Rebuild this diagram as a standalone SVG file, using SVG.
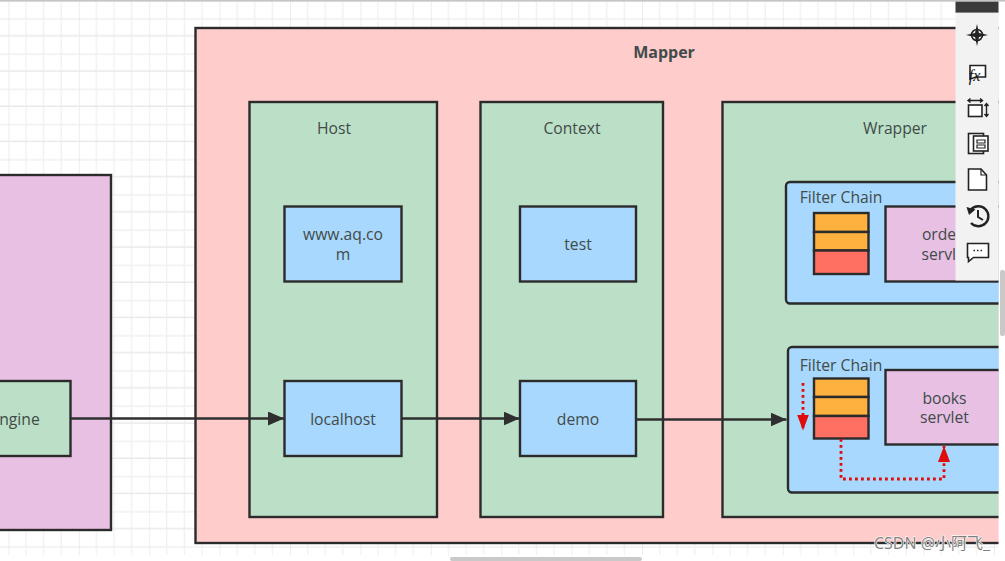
<svg xmlns="http://www.w3.org/2000/svg" width="1005" height="561" viewBox="0 0 1005 561">
<style>
  text { font-family: "Open Sans", "Noto Sans", "Liberation Sans", sans-serif; font-size: 15.7px; fill: #414b49; text-anchor: middle; }
  .box { stroke: #2b2b2b; stroke-width: 2.4; }
  .pink { fill: #ffcccc; }
  .green { fill: #bbdfc7; }
  .blue { fill: #a8d8fd; }
  .lilac { fill: #e8c0e4; }
  .amber { fill: #ffb13f; }
  .coral { fill: #ff7063; }
  .flow { fill: none; stroke: #2f2f2f; stroke-width: 2.4; }
  .dots { fill: none; stroke: #e00b0b; stroke-width: 2.8; stroke-dasharray: 2.8 3.2; }
  .minor { stroke: #f1f1f1; stroke-width: 1.4; }
  .major { stroke: #e9e9e9; stroke-width: 1.6; }
  .ico { fill: #fff; stroke: #222; stroke-width: 1.6; }
</style>
<defs>
  <marker id="head" markerUnits="userSpaceOnUse" markerWidth="16" markerHeight="14" refX="16" refY="7" orient="auto">
    <path d="M0 0L16 7L0 14Z" fill="#2f2f2f"/>
  </marker>
  <marker id="headRed" markerUnits="userSpaceOnUse" markerWidth="16" markerHeight="12" refX="16" refY="6" orient="auto">
    <path d="M0 0L16 6L0 12Z" fill="#e00b0b"/>
  </marker>
  <pattern id="cell" patternUnits="userSpaceOnUse" x="8.4" y="1.4" width="70.4" height="35.2">
    <path class="minor" fill="none" d="M17.6 0V35.2M35.2 0V35.2M52.8 0V35.2M0 17.6H70.4"/>
    <path class="major" fill="none" d="M0 0V35.2M0 34.6H70.4"/>
  </pattern>
  <clipPath id="sheet"><rect x="0" y="0" width="998.5" height="561"/></clipPath>
</defs>

<rect width="1005" height="561" fill="#fff"/>
<rect x="0" y="1.5" width="998.5" height="553.5" fill="url(#cell)"/>
<rect x="0" y="0" width="1005" height="1.6" fill="#c4c4c4"/>

<g clip-path="url(#sheet)">
  <g id="engine-container">
    <rect class="box lilac" x="-20" y="175" width="131" height="355"/>
  </g>
  <g id="mapper">
    <rect class="box pink" x="195.5" y="28" width="830" height="515"/>
    <text x="664" y="57.700" style="font-weight:700;font-size:16px">Mapper</text>
  </g>
  <g id="host">
    <rect class="box green" x="249.500" y="102" width="187.500" height="415"/>
    <text x="334" y="133.700">Host</text>
  </g>
  <g id="context">
    <rect class="box green" x="480.500" y="102" width="182.500" height="415"/>
    <text x="572" y="133.700">Context</text>
  </g>
  <g id="wrapper">
    <rect class="box green" x="722.500" y="102" width="300" height="415"/>
    <text x="895" y="133.700">Wrapper</text>
  </g>
  <g id="engine">
    <rect class="box green" x="-30" y="381" width="100.500" height="75"/>
    <text x="19.500" y="424.500">ngine</text>
  </g>
  <g id="host-www">
    <rect class="box blue" x="284.500" y="206.500" width="117" height="75"/>
    <text x="343" y="240">www.aq.co</text>
    <text x="343" y="259.500">m</text>
  </g>
  <g id="host-localhost">
    <rect class="box blue" x="284.500" y="381" width="117" height="75"/>
    <text x="343" y="424.500">localhost</text>
  </g>
  <g id="context-test">
    <rect class="box blue" x="520" y="206.500" width="116" height="75"/>
    <text x="578" y="249.500">test</text>
  </g>
  <g id="context-demo">
    <rect class="box blue" x="520" y="381" width="116" height="75"/>
    <text x="578" y="424.500">demo</text>
  </g>
  <g id="filter-chain-orders">
    <rect class="box blue" x="786" y="182" width="240" height="121.500" rx="4"/>
    <text x="841" y="202.700">Filter Chain</text>
    <rect class="box amber" x="814" y="213" width="54.500" height="19"/>
    <rect class="box amber" x="814" y="232" width="54.500" height="18.500"/>
    <rect class="box coral" x="814" y="250.500" width="54.500" height="23.500"/>
    <rect class="box lilac" x="885.500" y="206.500" width="130" height="75"/>
    <text x="946" y="240">orders</text>
    <text x="946" y="259.500">servlet</text>
  </g>
  <g id="filter-chain-books">
    <rect class="box blue" x="788" y="347" width="240" height="145.500" rx="4"/>
    <text x="841" y="370.500">Filter Chain</text>
    <rect class="box amber" x="814" y="378.500" width="54.500" height="18.500"/>
    <rect class="box amber" x="814" y="397" width="54.500" height="19"/>
    <rect class="box coral" x="814" y="416" width="54.500" height="22.500"/>
    <rect class="box lilac" x="885.500" y="370" width="130" height="74.500"/>
    <text x="944.500" y="403.500">books</text>
    <text x="944.500" y="422.500">servlet</text>
  </g>
  <g id="connectors">
    <path class="flow" marker-end="url(#head)" d="M70.500 418.500H284"/>
    <path class="flow" marker-end="url(#head)" d="M401.500 418.500H519.500"/>
    <path class="flow" marker-end="url(#head)" d="M636 419.500H786.500"/>
    <path class="dots" marker-end="url(#headRed)" d="M803 383V430.500"/>
    <path class="dots" marker-end="url(#headRed)" d="M841 439V479H944V446"/>
  </g>
</g>

<g id="side-toolbar">
  <rect x="955.500" y="1.600" width="43" height="278.900" fill="#f2f2f2"/>
  <rect x="955.500" y="1.600" width="43" height="11" fill="#3a3a3a"/>
  <circle cx="977" cy="35" r="5.500" fill="none" stroke="#222" stroke-width="1.600"/>
  <path d="M977 24L979 33L988 35L979 37L977 46L975 37L966 35L975 33Z" fill="#222"/>
  <path class="ico" d="M970 65.500H985.500V77H976L970 79Z"/>
  <text x="974.500" y="80.500" style="font-family:'Liberation Serif',serif;font-style:italic;font-size:16px;fill:#111">fx</text>
  <rect class="ico" x="968.500" y="105" width="13.500" height="11.500"/>
  <path d="M968 100.500H982M980 98.500L982.500 100.500L980 102.500M970.500 98.500L968 100.500L970.500 102.500M986.500 104V116M984.500 106L986.500 103.500L988.500 106M984.500 114L986.500 116.500L988.500 114" fill="none" stroke="#222" stroke-width="1.400"/>
  <rect class="ico" x="968.500" y="133.500" width="15" height="20"/>
  <rect class="ico" x="973.500" y="136" width="14.500" height="15"/>
  <path d="M977 140H985V143H977ZM977 145H985V148H977Z" fill="none" stroke="#222" stroke-width="1.200"/>
  <path class="ico" d="M968.500 169H981L986.500 175V190H968.500Z"/>
  <path d="M981 169V175H986.500" fill="none" stroke="#222" stroke-width="1.200"/>
  <path d="M971 209.500A10 10 0 1 1 971 223" fill="none" stroke="#222" stroke-width="2.400"/>
  <path d="M966.500 207L975.500 209.500L969 215Z" fill="#222"/>
  <path d="M978 210V217L983 220" fill="none" stroke="#222" stroke-width="2"/>
  <path class="ico" d="M967.500 243.500H988.500V257.500H973.500L968.500 261.500V257.500H967.500Z"/>
  <path d="M973.500 250.500H975M977 250.500H978.500M980.500 250.500H982" stroke="#222" stroke-width="1.400"/>
</g>

<rect id="scroll-right" x="1000" y="270" width="5" height="66" rx="2" fill="#c9c9c9"/>
<rect id="scroll-bottom" x="450" y="557" width="192" height="4" rx="2" fill="#c9c9c9"/>

<text id="watermark" x="932" y="549" style="font-family:'Open Sans','Noto Sans CJK SC',sans-serif;font-size:16px;fill:#7f7f7f;stroke:#fff;stroke-width:1.2;paint-order:stroke">CSDN @小阿飞_</text>
</svg>
